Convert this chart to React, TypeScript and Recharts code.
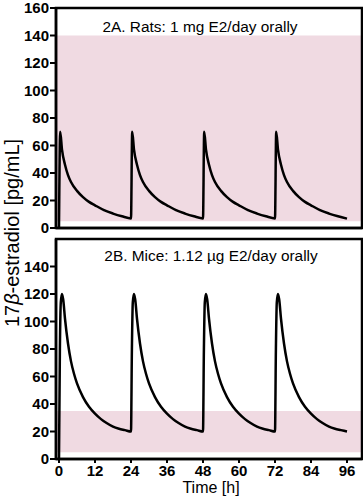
import React from "react";
import { LineChart, Line, XAxis, YAxis, ReferenceArea } from "recharts";

// 2A: rats, 1 mg E2/day orally
const ratHours = [
  0, 0.4, 1, 2, 3, 4, 6, 8, 10, 12, 15, 18, 21, 24,
  24.4, 25, 26, 27, 28, 30, 32, 34, 36, 39, 42, 45, 48,
  48.4, 49, 50, 51, 52, 54, 56, 58, 60, 63, 66, 69, 72,
  72.4, 73, 74, 75, 76, 78, 80, 82, 84, 87, 90, 93, 96,
];
const ratLevels = [
  0, 70, 57, 46, 38.5, 33.5, 27, 22.5, 19, 16.5, 13, 10.5, 8.5, 7,
  70, 57, 46, 38.5, 33.5, 27, 22.5, 19, 16.5, 13, 10.5, 8.5, 7,
  70, 57, 46, 38.5, 33.5, 27, 22.5, 19, 16.5, 13, 10.5, 8.5, 7,
  70, 57, 46, 38.5, 33.5, 27, 22.5, 19, 16.5, 13, 10.5, 8.5, 6.8,
];

// 2B: mice, 1.12 µg E2/day orally
const mouseHours = [
  0, 0.3, 0.6, 1, 1.4, 2, 3, 4, 5, 6, 8, 10, 12, 14, 16, 18, 20, 22, 24,
  24.3, 24.6, 25, 25.4, 26, 27, 28, 29, 30, 32, 34, 36, 38, 40, 42, 44, 46, 48,
  48.3, 48.6, 49, 49.4, 50, 51, 52, 53, 54, 56, 58, 60, 62, 64, 66, 68, 70, 72,
  72.3, 72.6, 73, 73.4, 74, 75, 76, 77, 78, 80, 82, 84, 86, 88, 90, 92, 94, 96,
];
const mouseLevels = [
  0, 80, 114, 120, 116, 102, 84, 71, 62, 55, 45, 38, 33, 29, 26, 23.5, 22, 21, 20,
  80, 114, 120, 116, 102, 84, 71, 62, 55, 45, 38, 33, 29, 26, 23.5, 22, 21, 20,
  80, 114, 120, 116, 102, 84, 71, 62, 55, 45, 38, 33, 29, 26, 23.5, 22, 21, 20,
  80, 114, 120, 116, 102, 84, 71, 62, 55, 45, 38, 33, 29, 26, 23.5, 22, 21, 20,
];

const xTicks = [0, 12, 24, 36, 48, 60, 72, 84, 96];
const yTicksTop = [0, 20, 40, 60, 80, 100, 120, 140, 160];
const yTicksBottom = [0, 20, 40, 60, 80, 100, 120, 140];

const ratBand = [5, 140];
const mouseBand = [5, 35];

const ratData = ratHours.map((t, i) => ({ t, v: ratLevels[i] }));
const mouseData = mouseHours.map((t, i) => ({ t, v: mouseLevels[i] }));

const FONT = "'Liberation Sans', Arial, Helvetica, sans-serif";
const PINK = "#f0dae2";
const tickStyle = { fill: "#000", fontSize: 15, fontWeight: 700, fontFamily: FONT };
const axisStroke = { stroke: "#000", strokeWidth: 2.5 };
const tickStroke = { stroke: "#000", strokeWidth: 2 };

function Panel({ data, band, yTicks, showXLabels, height, margin, xHeight }: any) {
  return (
    <LineChart width={363} height={height} data={data} margin={margin}>
      <ReferenceArea x1={-1} x2={101} y1={band[0]} y2={band[1]} fill={PINK} fillOpacity={1} stroke="none" ifOverflow="visible" />
      <XAxis
        type="number"
        dataKey="t"
        domain={[-1, 101]}
        ticks={xTicks}
        interval={0}
        height={xHeight}
        tick={showXLabels ? tickStyle : false}
        tickSize={showXLabels ? 4 : 5}
        tickMargin={2}
        axisLine={axisStroke}
        tickLine={tickStroke}
      />
      <YAxis
        type="number"
        domain={[0, 160]}
        ticks={yTicks}
        interval={0}
        width={56}
        tick={tickStyle}
        tickSize={6}
        tickMargin={1}
        axisLine={axisStroke}
        tickLine={tickStroke}
      />
      <Line type="monotone" dataKey="v" stroke="#000" strokeWidth={2.5} dot={false} isAnimationActive={false} />
      <ReferenceArea x1={-1} x2={101} y1={0} y2={160} fill="none" stroke="#000" strokeWidth={2.5} ifOverflow="visible" />
    </LineChart>
  );
}

const textBase: React.CSSProperties = {
  position: "absolute",
  whiteSpace: "nowrap",
  fontFamily: FONT,
  color: "#000",
  lineHeight: "18px",
};

export default function App() {
  return (
    <div style={{ position: "absolute", left: 0, top: 0, width: 363, height: 500, background: "#fff" }}>
      <div style={{ position: "absolute", left: 0, top: 0 }}>
        <Panel data={ratData} band={ratBand} yTicks={yTicksTop} showXLabels={false} height={240}
          margin={{ top: 8, right: 1, left: 0, bottom: 0 }} xHeight={12} />
      </div>
      <div style={{ position: "absolute", left: 0, top: 230 }}>
        <Panel data={mouseData} band={mouseBand} yTicks={yTicksBottom} showXLabels={true} height={270}
          margin={{ top: 9, right: 1, left: 0, bottom: 11 }} xHeight={30} />
      </div>
      <div style={{ ...textBase, left: 200, top: 18, fontSize: 15.4, transform: "translateX(-50%)" }}>
        2A. Rats: 1 mg E2/day orally
      </div>
      <div style={{ ...textBase, left: 211, top: 247, fontSize: 15.4, transform: "translateX(-50%)" }}>
        2B. Mice: 1.12 µg E2/day orally
      </div>
      <div style={{ ...textBase, left: 12, top: 233, fontSize: 20, lineHeight: "22px", transform: "translate(-50%, -50%) rotate(-90deg)" }}>
        17<i>β</i>-estradiol [pg/mL]
      </div>
      <div style={{ ...textBase, left: 211, top: 480, fontSize: 16, lineHeight: "16px", transform: "translateX(-50%)" }}>
        Time [h]
      </div>
    </div>
  );
}
